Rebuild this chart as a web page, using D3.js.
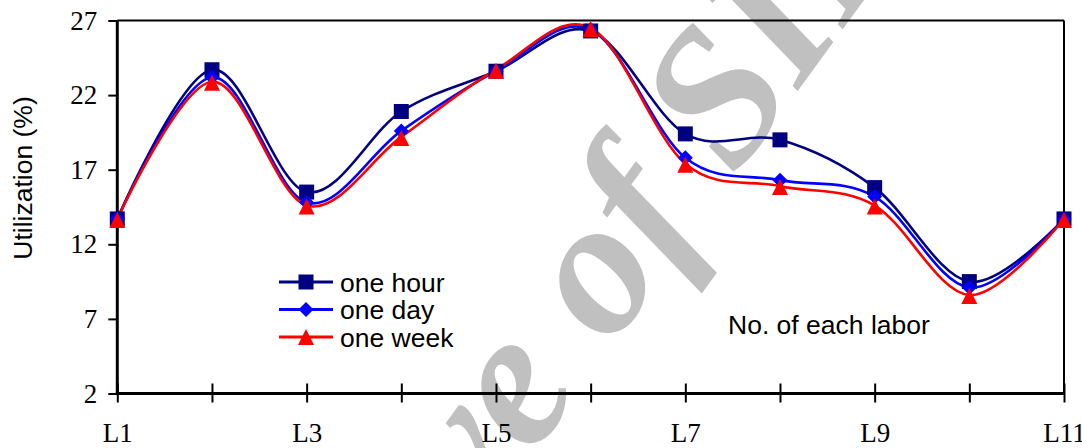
<!DOCTYPE html>
<html>
<head>
<meta charset="utf-8">
<script src="https://cdn.jsdelivr.net/npm/d3@7"></script>
<style>
  html, body { margin: 0; padding: 0; background: #fff; }
  svg { display: block; }
</style>
</head>
<body>
<svg id="chart" width="1082" height="448"></svg>
<script>
const categories = ["L1","L2","L3","L4","L5","L6","L7","L8","L9","L10","L11"];
const xTickLabels = ["L1","","L3","","L5","","L7","","L9","","L11"];
const yTicks = [2, 7, 12, 17, 22, 27];
const seriesNames = ["one hour", "one day", "one week"];
const oneHour = [13.7, 23.7, 15.5, 20.9, 23.6, 26.3, 19.4, 19.0, 15.8, 9.5, 13.7];
const oneDay  = [13.7, 23.2, 14.8, 19.6, 23.6, 26.4, 17.8, 16.3, 15.2, 9.1, 13.7];
const oneWeek = [13.7, 22.9, 14.6, 19.2, 23.7, 26.5, 17.4, 15.9, 14.6, 8.6, 13.7];
const yTitle = "Utilization (%)";
const xTitle = "No. of each labor";
const watermark = "Archive of SID";

const colors = ["#000080", "#0000FF", "#FF0000"];

// custom marker shapes (size = full width in px)
const squareSym = { draw(ctx, s) { const h = s / 2; ctx.moveTo(-h, -h); ctx.lineTo(h, -h); ctx.lineTo(h, h); ctx.lineTo(-h, h); ctx.closePath(); } };
const diamondSym = { draw(ctx, s) { const h = s / 2; ctx.moveTo(0, -h); ctx.lineTo(h, 0); ctx.lineTo(0, h); ctx.lineTo(-h, 0); ctx.closePath(); } };
const triangleSym = { draw(ctx, s) { const h = s / 2; ctx.moveTo(0, -h); ctx.lineTo(h, h); ctx.lineTo(-h, h); ctx.closePath(); } };
const symbols = [squareSym, diamondSym, triangleSym];
const symSizes = [15, 15, 16];

const svg = d3.select("#chart");
const pLeft = 117.3, pRight = 1064, pTop = 20.5, pBottom = 393.5;

const x = d3.scalePoint().domain(categories).range([pLeft, pRight]);
const y = d3.scaleLinear().domain([2, 27]).range([pBottom, pTop]);

// watermark (behind)
const wm = svg.append("g");
const wmText = wm.append("text")
  .attr("x", 0).attr("y", 0)
  .attr("font-family", "Liberation Serif, Times New Roman, serif")
  .attr("font-style", "italic")
  .attr("font-weight", "bold")
  .attr("font-size", 195)
  .attr("fill", "#c0c0c0")
  .text(watermark);
const ext = wmText.node().getExtentOfChar(8);
const ocx = ext.x + ext.width / 2, ocy = ext.y + ext.height / 2;
wmText.attr("x", -ocx).attr("y", -ocy + 20);
wm.attr("transform", "translate(570,258) rotate(-54)");

// frame top & right
svg.append("line").attr("x1", pLeft).attr("x2", pRight).attr("y1", pTop).attr("y2", pTop)
  .attr("stroke", "#000").attr("stroke-width", 2);
svg.append("line").attr("x1", pRight).attr("x2", pRight).attr("y1", pTop).attr("y2", pBottom)
  .attr("stroke", "#000").attr("stroke-width", 2);

// y axis
const yAxis = d3.axisLeft(y).tickValues(yTicks).tickSize(9).tickPadding(11).tickFormat(d3.format("d"));
const gy = svg.append("g").attr("transform", `translate(${pLeft},0)`).call(yAxis);
gy.select(".domain").attr("stroke-width", 3).attr("d", `M0,${pTop}V${pBottom}`);
gy.selectAll(".tick line").attr("stroke-width", 2);
gy.selectAll(".tick text")
  .attr("font-family", "Liberation Serif, Times New Roman, serif")
  .attr("font-size", 27).attr("fill", "#000");

// x axis
const xAxis = d3.axisBottom(x).tickSize(0).tickFormat((d, i) => xTickLabels[i]);
const gx = svg.append("g").attr("transform", `translate(0,${pBottom})`).call(xAxis);
gx.select(".domain").attr("stroke-width", 3).attr("d", `M${pLeft - 1.5},0H${pRight + 1}`);
gx.selectAll(".tick").append("line").attr("y1", -10).attr("y2", 9).attr("stroke", "#000").attr("stroke-width", 2);
gx.selectAll(".tick text")
  .attr("font-family", "Liberation Serif, Times New Roman, serif")
  .attr("font-size", 27).attr("fill", "#000")
  .attr("dy", null).attr("y", 48);

// axis titles
svg.append("text")
  .attr("transform", "translate(32,178) rotate(-90)")
  .attr("text-anchor", "middle")
  .attr("font-family", "Liberation Sans, Arial, sans-serif")
  .attr("font-size", 26.5).attr("fill", "#000")
  .text(yTitle);
svg.append("text")
  .attr("x", 728).attr("y", 334)
  .attr("font-family", "Liberation Sans, Arial, sans-serif")
  .attr("font-size", 26.5).attr("fill", "#000")
  .text(xTitle);

// series
const allSeries = [oneHour, oneDay, oneWeek];
const line = d3.line()
  .x((d, i) => x(categories[i]))
  .y(d => y(d))
  .curve(d3.curveCardinal.tension(0));

allSeries.forEach((vals, s) => {
  svg.append("path").datum(vals)
    .attr("d", line)
    .attr("fill", "none")
    .attr("stroke", colors[s])
    .attr("stroke-width", 2.6);
});
allSeries.forEach((vals, s) => {
  svg.append("g").selectAll("path").data(vals).join("path")
    .attr("d", d3.symbol().type(symbols[s]).size(symSizes[s]))
    .attr("transform", (d, i) => `translate(${x(categories[i])},${y(d) + (s === 2 ? 1 : 0)})`)
    .attr("fill", colors[s]);
});

// legend
const lg = svg.append("g");
seriesNames.forEach((name, s) => {
  const ly = 282 + s * 27.5;
  lg.append("line").attr("x1", 279).attr("x2", 333).attr("y1", ly).attr("y2", ly)
    .attr("stroke", colors[s]).attr("stroke-width", 3);
  lg.append("path").attr("d", d3.symbol().type(symbols[s]).size(symSizes[s]))
    .attr("transform", `translate(306,${ly})`)
    .attr("fill", colors[s]);
  lg.append("text").attr("x", 340).attr("y", ly + 9.5)
    .attr("font-family", "Liberation Sans, Arial, sans-serif")
    .attr("font-size", 26.5).attr("fill", "#000")
    .text(name);
});
</script>
</body>
</html>
